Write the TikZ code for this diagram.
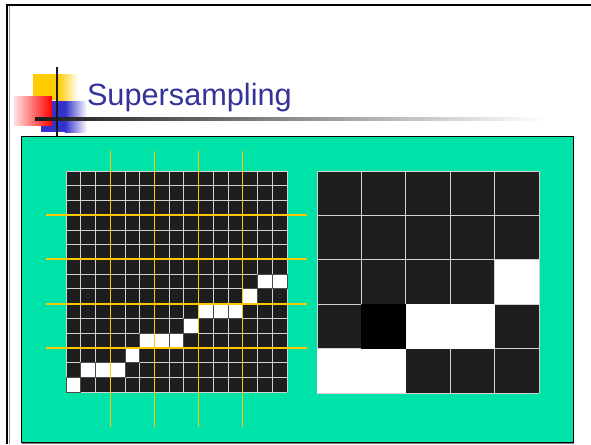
\documentclass[tikz,border=0pt]{standalone}
\usepackage{fontspec}
\setmainfont{Liberation Sans}
\usepackage{xcolor}
\definecolor{slidegreen}{RGB}{0,227,168}
\definecolor{titleblue}{RGB}{51,51,153}
\definecolor{cellgray}{RGB}{30,30,30}
\definecolor{guidegold}{RGB}{255,200,0}
\definecolor{logoblue}{RGB}{51,51,204}
\definecolor{logoyellow}{RGB}{255,204,0}

\begin{document}
\begin{tikzpicture}[x=1pt,y=-1pt,
    gridline/.style={draw=white!82!black,line width=0.8pt},
    litcell/.style={draw=black!70,line width=0.8pt},
    guideline/.style={draw=guidegold,line width=1.3pt}]
  \useasboundingbox (0,0) rectangle (591,444);
  % slide frame
  \draw[black!40,line width=1pt] (9.5,6) -- (9.5,444);
  \draw[line width=2pt] (7,4) -- (7,444);
  \draw[line width=2pt] (6,5) -- (591,5);
  % title logo
  \fill[logoyellow] (33,74) rectangle (58,100);
  \shade[left color=logoyellow,right color=white] (58,74) rectangle (78,100);
  \fill[logoblue] (41,101) rectangle (65,132);
  \shade[left color=logoblue,right color=white] (65,101) rectangle (87,132);
  \shade[left color=red!12,right color=red] (14,96) rectangle (52,125);
  \shade[left color=black!90,right color=white] (35,117.8) rectangle (545,120.6);
  \fill[black!90] (55.5,67) rectangle (58,136);
  \node[anchor=base west,inner sep=0pt,text=titleblue,font=\fontsize{30.7}{36}\selectfont] (title) at (86.8,105) {Supersampling};
  % green panel
  \draw[black!50,line width=1pt] (22,443) -- (574,443);
  \draw[fill=slidegreen,line width=1pt] (21,136) rectangle (573,442);
  % left grid, 15 x 15 samples
  \def\lcell{14.733}
  \fill[cellgray] (66,171) rectangle (287,392);
  \foreach \c/\r in {13/7,14/7,12/8,9/9,10/9,11/9,8/10,5/11,6/11,7/11,4/12,1/13,2/13,3/13,0/14}
    \fill[white] ({66+\c*\lcell},{171+\r*\lcell}) rectangle ++(\lcell,\lcell);
  \foreach \i in {0,...,15} {
    \draw[gridline] ({66+\i*\lcell},171) -- ({66+\i*\lcell},392);
    \draw[gridline] (66,{171+\i*\lcell}) -- (287,{171+\i*\lcell});
  }
  \foreach \c/\r in {13/7,14/7,12/8,9/9,10/9,11/9,8/10,5/11,6/11,7/11,4/12,1/13,2/13,3/13,0/14}
    \draw[litcell] ({66+\c*\lcell},{171+\r*\lcell}) rectangle ++(\lcell,\lcell);
  % guides every 3 samples
  \foreach \x in {110.2,154.4,198.6,242.8}
    \draw[guideline] (\x,151) -- (\x,427);
  \foreach \y in {215,259,304,348}
    \draw[guideline,line width=1.6pt] (46,\y) -- (307,\y);
  % right grid, 5 x 5 pixels
  \def\rcell{44.4}
  \fill[cellgray] (317,171) rectangle ++(222,222);
  \foreach \i in {0,...,5} {
    \draw[gridline] ({317+\i*\rcell},171) -- ({317+\i*\rcell},393);
    \draw[gridline] (317,{171+\i*\rcell}) -- (539,{171+\i*\rcell});
  }
  \foreach \c/\r in {4/2,2/3,3/3,0/4,1/4}
    \fill[white] ({317+\c*\rcell},{171+\r*\rcell}) rectangle ++(\rcell,\rcell);
  \fill[black] ({317+\rcell},{171+3*\rcell}) rectangle ++(\rcell,\rcell);
\end{tikzpicture}
\end{document}
